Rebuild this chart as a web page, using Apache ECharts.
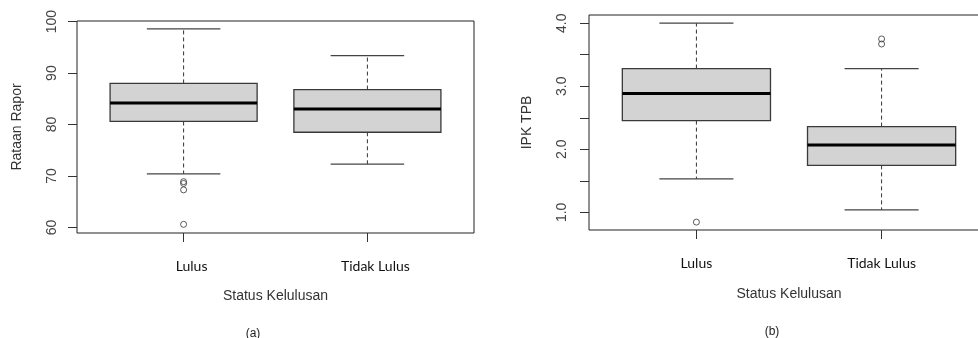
<!DOCTYPE html>
<html>
<head>
<meta charset="utf-8">
<script src="https://cdn.jsdelivr.net/npm/echarts@6/dist/echarts.min.js"></script>
<style>
  html, body { margin: 0; padding: 0; background: #fff; }
  #main { width: 978px; height: 338px; }
</style>
</head>
<body>
<div id="main"></div>
<script>
// kategori status kelulusan
const categories = ['Lulus', 'Tidak Lulus'];

// [min, Q1, median, Q3, max] per kategori
const raporStats = [
  [70.4, 80.6, 84.2, 88.0, 98.6],
  [72.3, 78.5, 83.0, 86.8, 93.4]
];
const raporOutliers = [[1, 68.9], [1, 68.55], [1, 67.3], [1, 60.6]];

const ipkStats = [
  [1.53, 2.455, 2.885, 3.28, 4.0],
  [1.04, 1.745, 2.07, 2.36, 3.28]
];
const ipkOutliers = [[1, 0.845], [2, 3.75], [2, 3.67]];

const raporTicks = [60, 70, 80, 90, 100];
const ipkTicks = [1.0, 1.5, 2.0, 2.5, 3.0, 3.5, 4.0];
const ipkLabels = [1.0, 2.0, 3.0, 4.0];

const dom = document.getElementById('main');
const myChart = echarts.init(dom);

function renderBox(params, api) {
  const x = api.value(0);
  const pMin = api.coord([x, api.value(1)]);
  const pQ1 = api.coord([x, api.value(2)]);
  const pMed = api.coord([x, api.value(3)]);
  const pQ3 = api.coord([x, api.value(4)]);
  const pMax = api.coord([x, api.value(5)]);
  const half = api.size([0.4, 0])[0];
  const cap = half / 2;
  const cx = pMed[0];
  const dash = { stroke: '#333', lineWidth: 1, lineDash: [4, 3] };
  const solid = { stroke: '#444', lineWidth: 1.2 };
  return {
    type: 'group',
    children: [
      { type: 'line', shape: { x1: cx, y1: pQ3[1], x2: cx, y2: pMax[1] }, style: dash },
      { type: 'line', shape: { x1: cx, y1: pQ1[1], x2: cx, y2: pMin[1] }, style: dash },
      { type: 'line', shape: { x1: cx - cap, y1: pMax[1], x2: cx + cap, y2: pMax[1] }, style: solid },
      { type: 'line', shape: { x1: cx - cap, y1: pMin[1], x2: cx + cap, y2: pMin[1] }, style: solid },
      {
        type: 'rect',
        shape: { x: cx - half, y: pQ3[1], width: half * 2, height: pQ1[1] - pQ3[1] },
        style: { fill: '#d3d3d3', stroke: '#3a3a3a', lineWidth: 1.3 }
      },
      { type: 'line', shape: { x1: cx - half, y1: pMed[1], x2: cx + half, y2: pMed[1] }, style: { stroke: '#000', lineWidth: 3 } }
    ]
  };
}

function xAxisFor(gridIndex, shift, gap) {
  return {
    type: 'value',
    gridIndex: gridIndex,
    min: 0.42,
    max: 2.58,
    splitLine: { show: false },
    axisLine: { show: false },
    axisTick: { show: true, customValues: [1, 2], inside: false, length: 9, lineStyle: { color: '#333' } },
    axisLabel: {
      customValues: [1, 2],
      formatter: v => categories[Math.round(v) - 1],
      margin: 26,
      padding: [0, 0, 0, shift],
      fontFamily: 'Lato',
      fontSize: 14,
      color: '#111'
    },
    name: 'Status Kelulusan',
    nameLocation: 'middle',
    nameGap: gap,
    nameTextStyle: { fontFamily: 'Liberation Sans', fontSize: 14, color: '#333' }
  };
}

const option = {
  backgroundColor: '#fff',
  animation: false,
  title: [
    { text: '(a)', left: 248, top: 323, textAlign: 'center', textStyle: { fontFamily: 'Liberation Sans', fontSize: 12, fontWeight: 'normal', color: '#222' } },
    { text: '(b)', left: 767, top: 321, textAlign: 'center', textStyle: { fontFamily: 'Liberation Sans', fontSize: 12, fontWeight: 'normal', color: '#222' } }
  ],
  grid: [
    { left: 77, top: 21, width: 397, height: 212, outerBoundsMode: 'none', show: true, borderColor: '#222', borderWidth: 1, backgroundColor: 'transparent' },
    { left: 589, top: 15, width: 400, height: 215, outerBoundsMode: 'none', show: true, borderColor: '#222', borderWidth: 1, backgroundColor: 'transparent' }
  ],
  xAxis: [xAxisFor(0, 16, 56), xAxisFor(1, 0, 57)],
  yAxis: [
    {
      type: 'value',
      gridIndex: 0,
      min: 58.92,
      max: 100.13,
      splitLine: { show: false },
      axisLine: { show: false },
      axisTick: { show: true, customValues: raporTicks, length: 9, lineStyle: { color: '#333' } },
      axisLabel: { customValues: raporTicks, rotate: 90, margin: 18, fontFamily: 'Liberation Sans', fontSize: 14, color: '#444' },
      name: 'Rataan Rapor',
      nameLocation: 'middle',
      nameGap: 53,
      nameTextStyle: { fontFamily: 'Liberation Sans', fontSize: 14, color: '#333' }
    },
    {
      type: 'value',
      gridIndex: 1,
      min: 0.72,
      max: 4.13,
      splitLine: { show: false },
      axisLine: { show: false },
      axisTick: { show: true, customValues: ipkTicks, length: 9, lineStyle: { color: '#333' } },
      axisLabel: { customValues: ipkLabels, rotate: 90, margin: 20, formatter: v => Number(v).toFixed(1), fontFamily: 'Liberation Sans', fontSize: 14, color: '#444' },
      name: 'IPK TPB',
      nameLocation: 'middle',
      nameGap: 55,
      nameTextStyle: { fontFamily: 'Liberation Sans', fontSize: 14, color: '#333' }
    }
  ],
  series: [
    {
      type: 'custom',
      xAxisIndex: 0,
      yAxisIndex: 0,
      renderItem: renderBox,
      data: raporStats.map((s, i) => [i + 1].concat(s)),
      z: 2
    },
    {
      type: 'scatter',
      xAxisIndex: 0,
      yAxisIndex: 0,
      symbol: 'circle',
      symbolSize: 6,
      itemStyle: { color: 'transparent', borderColor: '#333', borderWidth: 1 },
      data: raporOutliers,
      z: 3
    },
    {
      type: 'custom',
      xAxisIndex: 1,
      yAxisIndex: 1,
      renderItem: renderBox,
      data: ipkStats.map((s, i) => [i + 1].concat(s)),
      z: 2
    },
    {
      type: 'scatter',
      xAxisIndex: 1,
      yAxisIndex: 1,
      symbol: 'circle',
      symbolSize: 6,
      itemStyle: { color: 'transparent', borderColor: '#333', borderWidth: 1 },
      data: ipkOutliers,
      z: 3
    }
  ]
};

myChart.setOption(option, true);
</script>
</body>
</html>
